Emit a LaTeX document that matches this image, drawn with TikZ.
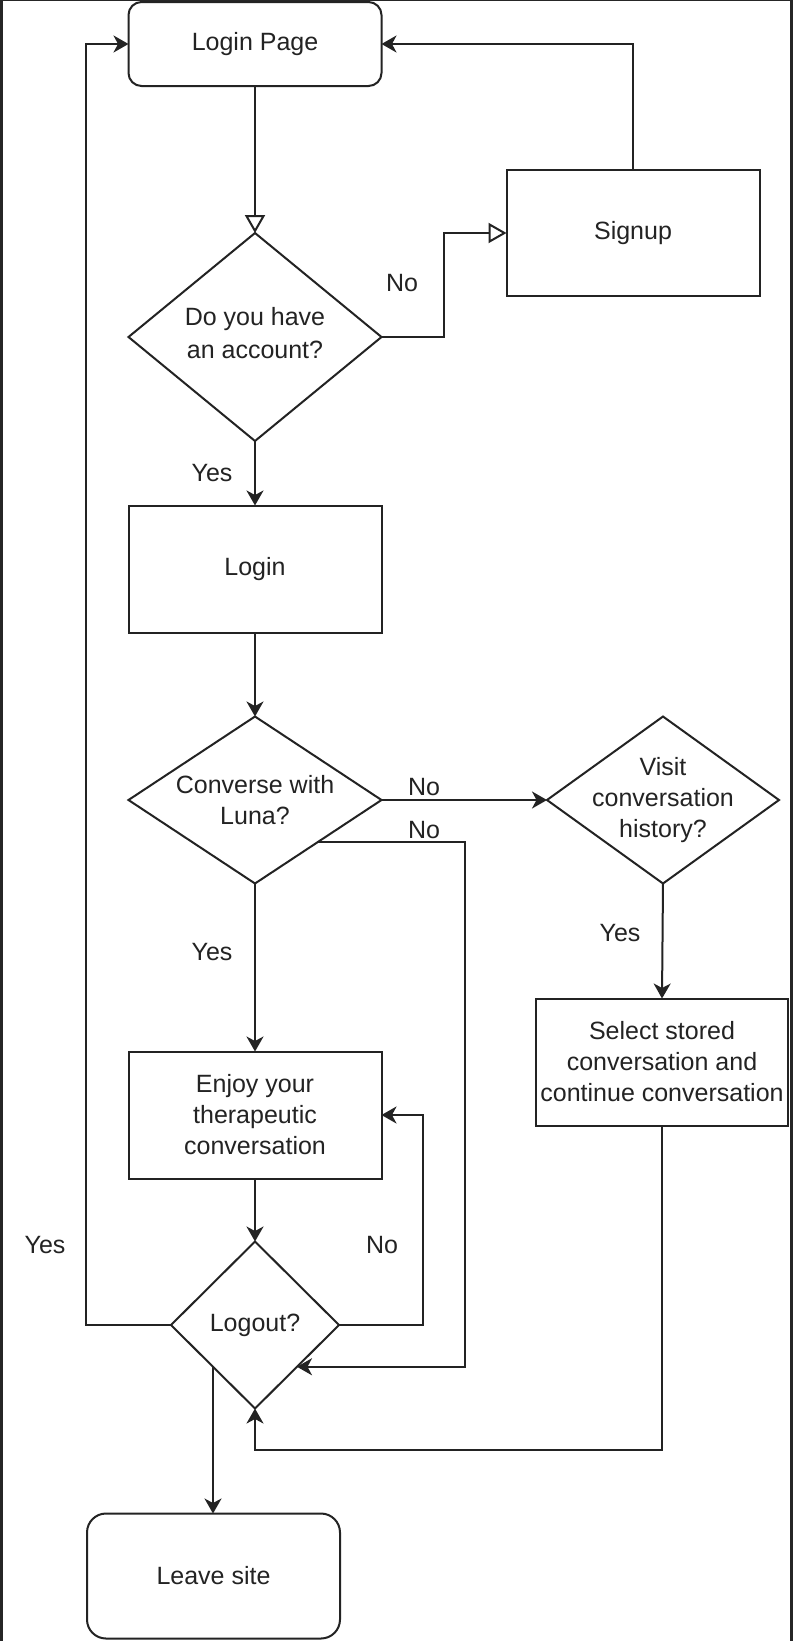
\documentclass[tikz,border=0pt]{standalone}
\usepackage{fontspec}
\setmainfont{Liberation Sans}
\usetikzlibrary{shapes.geometric,arrows.meta,calc}
\definecolor{ln}{RGB}{35,35,35}
\definecolor{tx}{RGB}{35,35,35}
\definecolor{frame}{RGB}{38,38,38}
\tikzset{
  every node/.style={font=\fontsize{25}{31}\selectfont, text=tx},
  boxst/.style={draw=ln, line width=2pt, fill=white, outer sep=0pt, inner sep=0pt, align=center},
  rbox/.style={boxst, rounded corners=13pt},
  dia/.style={boxst, shape=diamond, inner sep=-25pt},
  lbl/.style={inner sep=0pt},
  arr/.style={draw=ln, line width=2pt, -{Stealth[length=15pt,width=17pt,inset=4.5pt]}},
  opentri/.style={draw=ln, line width=2pt, -{Triangle[open,length=18pt,width=20pt,line width=2pt]}}
}
\begin{document}
\begin{tikzpicture}[x=1pt,y=-1pt]
\useasboundingbox (0,0) rectangle (793,1641);
\fill[white] (0,0) rectangle (793,1641);
\fill[frame] (0,0) rectangle (2.5,1641);
\fill[frame] (790,0) rectangle (793,1641);
\fill[frame] (0,0) rectangle (793,1.2);

% nodes
\node[rbox, minimum width=253pt, minimum height=84pt] (lp) at (255,44) {Login Page};
\node[dia, minimum width=253pt, minimum height=208pt] (d1) at (255,337) {Do you have\\[2pt]an account?\\[-23pt]\mbox{}};
\node[boxst, minimum width=253pt, minimum height=126pt] (su) at (633,233) {Signup};
\node[boxst, minimum width=253pt, minimum height=127pt] (lg) at (255,569) {Login};
\node[dia, minimum width=253pt, minimum height=167pt] (d2) at (255,800) {Converse with\\Luna?};
\node[dia, minimum width=232pt, minimum height=167pt] (vh) at (663,800) {Visit\\conversation\\history?};
\node[boxst, minimum width=252pt, minimum height=127pt] (sel) at (662,1062) {Select stored\\conversation and\\continue conversation};
\node[boxst, minimum width=253pt, minimum height=127pt] (en) at (255,1115) {Enjoy your\\therapeutic\\conversation};
\node[dia, minimum width=168pt, minimum height=167pt] (lo) at (255,1325) {Logout?};
\node[rbox, rounded corners=19pt, minimum width=253pt, minimum height=125pt] (ls) at (213.5,1576) {Leave site};

% connectors
\draw[opentri] (lp.south) -- (d1.north);
\draw[opentri] (d1.east) -- ++(62,0) |- (su.west);
\draw[arr] (su.north) |- (lp.east);
\draw[arr] (d1.south) -- (lg.north);
\draw[arr] (lg.south) -- (d2.north);
\draw[arr] (d2.east) -- (vh.west);
\draw[arr] (d2.south east) -- ++(147,0) |- (lo.south east);
\draw[arr] (d2.south) -- (en.north);
\draw[arr] (vh.south) -- (sel.north);
\draw[arr] (sel.south) -- ++(0,324) -| (lo.south);
\draw[arr] (en.south) -- (lo.north);
\draw[arr] (lo.east) -- ++(84,0) |- (en.east);
\draw[arr] (lo.west) -- ++(-85,0) |- (lp.west);
\draw[arr] (lo.south west) -- (lo.south west |- ls.north);

% labels
\node[lbl] (l1) at (402,283) {No};
\node[lbl] (l2) at (212,473) {Yes};
\node[lbl] (l3) at (424,787) {No};
\node[lbl] (l4) at (424,830) {No};
\node[lbl] (l5) at (212,952) {Yes};
\node[lbl] (l6) at (620,933) {Yes};
\node[lbl] (l7) at (382,1245) {No};
\node[lbl] (l8) at (45,1245) {Yes};
\end{tikzpicture}
\end{document}
